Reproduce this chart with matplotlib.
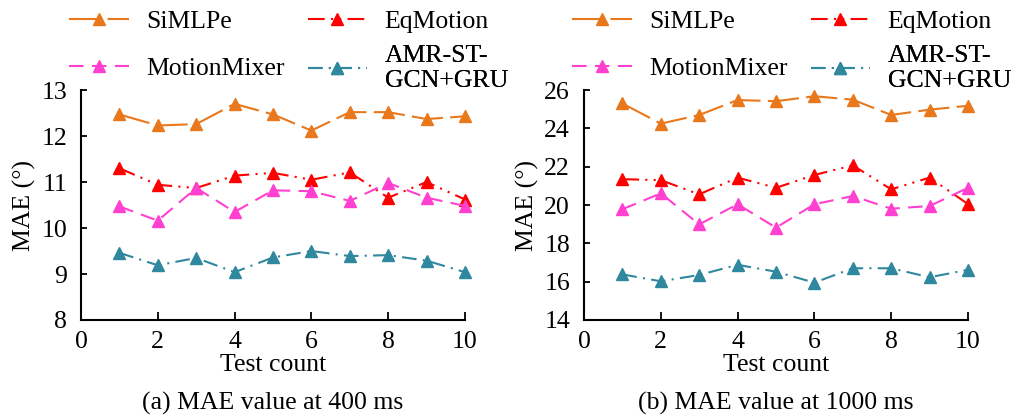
import numpy as np
import matplotlib
matplotlib.use("Agg")
import matplotlib.pyplot as plt

plt.rcParams['font.family'] = ['Liberation Serif', 'DejaVu Serif']
plt.rcParams['font.size'] = 18.5

# test counts
test_count = [1, 2, 3, 4, 5, 6, 7, 8, 9, 10]

# MAE at 400 ms
simlpe_400 = [12.47, 12.23, 12.26, 12.70, 12.47, 12.12, 12.52, 12.52, 12.37, 12.43]
eqmotion_400 = [11.30, 10.94, 10.87, 11.14, 11.20, 11.05, 11.21, 10.66, 11.00, 10.62]
motionmixer_400 = [10.47, 10.16, 10.87, 10.35, 10.82, 10.80, 10.59, 10.98, 10.66, 10.48]
amr_400 = [9.46, 9.19, 9.35, 9.04, 9.36, 9.50, 9.39, 9.41, 9.29, 9.04]

# MAE at 1000 ms
simlpe_1000 = [25.30, 24.25, 24.70, 25.48, 25.42, 25.68, 25.50, 24.70, 24.98, 25.18]
eqmotion_1000 = [21.35, 21.30, 20.56, 21.43, 20.90, 21.57, 22.07, 20.82, 21.43, 20.05]
motionmixer_1000 = [19.78, 20.61, 18.99, 20.04, 18.82, 20.04, 20.47, 19.81, 19.95, 20.90]
amr_1000 = [16.38, 16.02, 16.35, 16.88, 16.52, 15.95, 16.70, 16.70, 16.23, 16.62]

labels = ['SiMLPe', 'EqMotion', 'MotionMixer', 'AMR-ST-\nGCN+GRU']
colors = ['#E9781C', '#FF0000', '#FF40D0', '#2F889E']
styles = [(0, (15, 3.5)), (0, (8, 3, 1, 3, 1, 3)), (0, (7, 4)), (0, (7, 3, 1, 3))]

panels = [
    ([simlpe_400, eqmotion_400, motionmixer_400, amr_400], (8, 13), np.arange(8, 14, 1),
     '(a) MAE value at 400 ms'),
    ([simlpe_1000, eqmotion_1000, motionmixer_1000, amr_1000], (14, 26), np.arange(14, 27, 2),
     '(b) MAE value at 1000 ms'),
]

fig = plt.figure(figsize=(10.16, 4.19), dpi=100)
axes = [fig.add_axes([0.0797, 0.2363, 0.378, 0.5487]),
        fig.add_axes([0.5748, 0.2363, 0.378, 0.5487])]

# legend slots (col, row) in axes coords
slots = [(-0.03, 1.30), (0.59, 1.30), (-0.03, 1.095), (0.59, 1.095)]

for ax, (series, ylim, yticks, caption) in zip(axes, panels):
    lines = []
    for vals, lab, c, ls in zip(series, labels, colors, styles):
        ln, = ax.plot(test_count, vals, color=c, linestyle=ls, linewidth=1.5,
                      marker='^', markersize=9, clip_on=False, label=lab)
        lines.append(ln)

    ax.set_xlim(0, 10)
    ax.set_ylim(*ylim)
    ax.set_xticks(np.arange(0, 11, 2))
    ax.set_yticks(yticks)
    for side in ['top', 'right']:
        ax.spines[side].set_visible(False)
    for side in ['left', 'bottom']:
        ax.spines[side].set_linewidth(1.5)
    ax.tick_params(axis='x', direction='in', length=6, width=1.3, pad=8)
    ax.tick_params(axis='y', direction='in', length=4.5, width=1.3, pad=10)
    ax.set_xlabel('Test count', labelpad=1)
    ax.set_ylabel('MAE (°)', labelpad=4)
    ax.text(0.5, -0.365, caption, transform=ax.transAxes, ha='center', va='center')

    for ln, (sx, sy) in zip(lines, slots):
        leg = ax.legend(handles=[ln], loc='center left', bbox_to_anchor=(sx, sy),
                        frameon=False, borderpad=0, borderaxespad=0,
                        handlelength=2.3, handletextpad=0.7, numpoints=1)
        ax.add_artist(leg)

fig.savefig('out.png', dpi=100)
